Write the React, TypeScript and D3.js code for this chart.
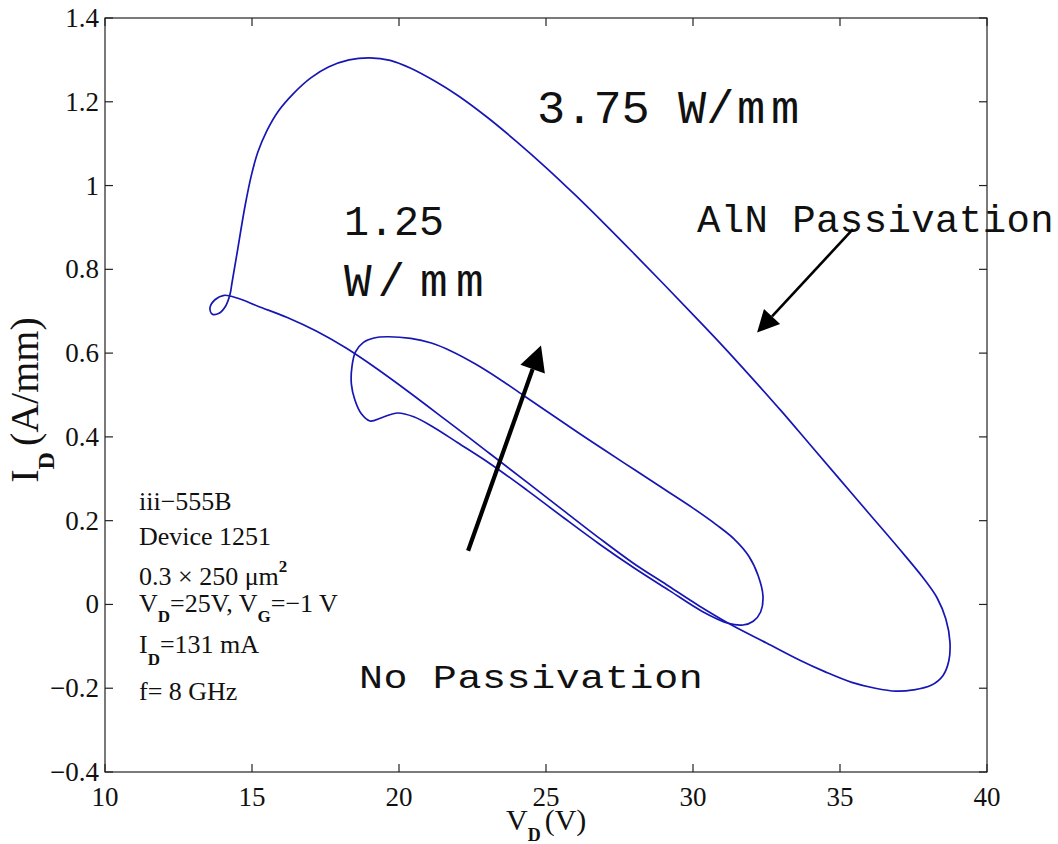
import React from "react";
import * as d3 from "d3";

// Axis ticks
const xTicks = [10, 15, 20, 25, 30, 35, 40];
const yTicks = [-0.4, -0.2, 0, 0.2, 0.4, 0.6, 0.8, 1, 1.2, 1.4];

// Dynamic load line, AlN-passivated device (3.75 W/mm): [V_D (V), I_D (A/mm)]
const alnLoop: [number, number][] = [
  [14.32, 0.768],
  [14.5, 0.842],
  [14.76, 0.95],
  [14.98, 1.025],
  [15.2, 1.08],
  [15.5, 1.13],
  [15.9, 1.178],
  [16.4, 1.219],
  [17.0, 1.257],
  [17.6, 1.283],
  [18.3, 1.3],
  [19.0, 1.305],
  [19.7, 1.299],
  [20.4, 1.28],
  [21.2, 1.25],
  [22.0, 1.215],
  [23.0, 1.163],
  [24.0, 1.105],
  [25.0, 1.043],
  [26.0, 0.977],
  [27.0, 0.908],
  [28.0, 0.837],
  [29.0, 0.765],
  [30.0, 0.692],
  [31.0, 0.618],
  [32.0, 0.541],
  [33.0, 0.462],
  [34.0, 0.38],
  [35.0, 0.298],
  [36.0, 0.216],
  [37.0, 0.134],
  [37.8, 0.066],
  [38.3, 0.016],
  [38.6, -0.035],
  [38.74, -0.09],
  [38.7, -0.135],
  [38.5, -0.17],
  [38.1, -0.193],
  [37.5, -0.204],
  [36.9, -0.207],
  [36.2, -0.2],
  [35.4, -0.186],
  [34.5, -0.161],
  [33.6, -0.132],
  [32.5, -0.092],
  [31.36, -0.051],
  [30.2, -0.003],
  [29.1, 0.047],
  [27.96, 0.099],
  [26.8, 0.159],
  [25.6, 0.224],
  [24.35, 0.292],
  [23.0, 0.365],
  [21.6, 0.44],
  [20.3, 0.509],
  [19.2, 0.565],
  [18.2, 0.612],
  [17.2, 0.652],
  [16.2, 0.685],
  [15.2, 0.712],
  [14.52, 0.731],
  [14.05, 0.738],
  [13.75, 0.728],
  [13.57, 0.708],
  [13.65, 0.693],
  [13.88, 0.695],
  [14.1, 0.712],
  [14.25, 0.74],
];

// Dynamic load line, unpassivated device (1.25 W/mm): [V_D (V), I_D (A/mm)]
const noPassLoop: [number, number][] = [
  [19.6, 0.639],
  [20.4, 0.635],
  [21.1, 0.624],
  [21.8, 0.604],
  [22.6, 0.574],
  [23.4, 0.539],
  [24.3, 0.496],
  [25.2, 0.453],
  [26.1, 0.41],
  [27.0, 0.368],
  [28.0, 0.322],
  [29.0, 0.276],
  [30.0, 0.23],
  [30.8, 0.19],
  [31.4, 0.156],
  [31.9, 0.115],
  [32.22, 0.068],
  [32.38, 0.02],
  [32.3, -0.018],
  [32.05, -0.04],
  [31.7, -0.049],
  [31.2, -0.045],
  [30.3, -0.016],
  [29.2, 0.033],
  [28.0, 0.087],
  [26.8, 0.145],
  [25.6, 0.207],
  [24.35, 0.273],
  [23.1, 0.336],
  [22.0, 0.386],
  [21.2, 0.422],
  [20.5, 0.448],
  [19.95, 0.457],
  [19.45, 0.447],
  [19.01, 0.438],
  [18.72, 0.455],
  [18.5, 0.488],
  [18.38, 0.526],
  [18.4, 0.568],
  [18.52, 0.603],
  [18.78, 0.625],
  [19.15, 0.636],
];

// Annotation arrows in data units: [start, tip]
const alnArrow: [[number, number], [number, number]] = [[35.44, 0.896], [32.18, 0.649]];
const noPassArrow: [[number, number], [number, number]] = [[22.35, 0.128], [24.83, 0.618]];

const W = 1058;
const H = 844;
const left = 105;
const right = 987;
const top = 18;
const bottom = 772;

const serif = "'Liberation Serif', 'Times New Roman', serif";
const mono = "'Liberation Mono', 'Courier New', monospace";
const lineColor = "#1616b4";

const fmt = (v: number) => {
  const s = d3.format("~g")(Math.abs(+v.toFixed(2)));
  return v < 0 ? "\u2212" + s : s;
};

function arrowHead(
  start: [number, number],
  tip: [number, number],
  len: number,
  half: number
) {
  const dx = tip[0] - start[0];
  const dy = tip[1] - start[1];
  const d = Math.hypot(dx, dy);
  const ux = dx / d;
  const uy = dy / d;
  const bx = tip[0] - ux * len;
  const by = tip[1] - uy * len;
  const pts = [
    [tip[0], tip[1]],
    [bx - uy * half, by + ux * half],
    [bx + uy * half, by - ux * half],
  ];
  return { base: [bx, by] as [number, number], points: pts.map((p) => p.join(",")).join(" ") };
}

export default function App() {
  const x = d3.scaleLinear().domain([10, 40]).range([left, right]);
  const y = d3.scaleLinear().domain([-0.4, 1.4]).range([bottom, top]);

  const line = d3
    .line<[number, number]>()
    .x((d) => x(d[0]))
    .y((d) => y(d[1]))
    .curve(d3.curveCatmullRomClosed.alpha(0.5));

  const arrows = [
    { a: alnArrow, w: 2.6, len: 22, half: 11 },
    { a: noPassArrow, w: 4.2, len: 25, half: 13 },
  ].map(({ a, w, len, half }) => {
    const s: [number, number] = [x(a[0][0]), y(a[0][1])];
    const t: [number, number] = [x(a[1][0]), y(a[1][1])];
    const head = arrowHead(s, t, len, half);
    return { s, head, w };
  });

  const tickLen = 8;
  const axisColor = "#222";

  return (
    <svg
      width={W}
      height={H}
      viewBox={`0 0 ${W} ${H}`}
      style={{ position: "absolute", left: 0, top: 0, background: "#fff" }}
    >
      <rect x={0} y={0} width={W} height={H} fill="#fff" />

      {/* load lines */}
      <path d={line(noPassLoop) ?? ""} fill="none" stroke={lineColor} strokeWidth={1.7} strokeLinejoin="round" />
      <path d={line(alnLoop) ?? ""} fill="none" stroke={lineColor} strokeWidth={1.7} strokeLinejoin="round" />

      {/* frame */}
      <rect
        x={left}
        y={top}
        width={right - left}
        height={bottom - top}
        fill="none"
        stroke={axisColor}
        strokeWidth={1.2}
      />
      {xTicks.map((t) => (
        <g key={"x" + t}>
          <line x1={x(t)} x2={x(t)} y1={bottom} y2={bottom - tickLen} stroke={axisColor} strokeWidth={1.2} />
          <line x1={x(t)} x2={x(t)} y1={top} y2={top + tickLen} stroke={axisColor} strokeWidth={1.2} />
          <text x={x(t)} y={806} textAnchor="middle" fontFamily={serif} fontSize={27} fill="#111">
            {fmt(t)}
          </text>
        </g>
      ))}
      {yTicks.map((t) => (
        <g key={"y" + t}>
          <line x1={left} x2={left + tickLen} y1={y(t)} y2={y(t)} stroke={axisColor} strokeWidth={1.2} />
          <line x1={right} x2={right - tickLen} y1={y(t)} y2={y(t)} stroke={axisColor} strokeWidth={1.2} />
          <text x={99} y={y(t) + 9} textAnchor="end" fontFamily={serif} fontSize={27} fill="#111">
            {fmt(t)}
          </text>
        </g>
      ))}

      {/* axis titles */}
      <text x={506} y={830} fontFamily={serif} fontSize={30} fill="#111">
        V
        <tspan fontSize={18} fontWeight="bold" dy={11}>
          D
        </tspan>
        <tspan dy={-11} dx={4}>
          (V)
        </tspan>
      </text>
      <text
        transform="translate(38,400) rotate(-90)"
        textAnchor="middle"
        fontFamily={serif}
        fontSize={40}
        fill="#111"
      >
        I
        <tspan fontSize={24} fontWeight="bold" dy={16}>
          D
        </tspan>
        <tspan dy={-16} dx={6}>
          (A/mm)
        </tspan>
      </text>

      {/* measurement conditions */}
      <g fontFamily={serif} fontSize={26} fill="#111">
        <text x={139} y={510}>iii{"\u2212"}555B</text>
        <text x={139} y={545}>Device 1251</text>
        <text x={139} y={585}>
          0.3 × 250 μm
          <tspan fontSize={17} fontWeight="bold" dy={-13}>
            2
          </tspan>
        </text>
        <text x={139} y={612}>
          V
          <tspan fontSize={17} fontWeight="bold" dy={10}>
            D
          </tspan>
          <tspan dy={-10}>=25V, V</tspan>
          <tspan fontSize={17} fontWeight="bold" dy={10}>
            G
          </tspan>
          <tspan dy={-10}>={"\u2212"}1 V</tspan>
        </text>
        <text x={139} y={653}>
          I
          <tspan fontSize={17} fontWeight="bold" dy={12}>
            D
          </tspan>
          <tspan dy={-12}>=131 mA</tspan>
        </text>
        <text x={139} y={700}>f= 8 GHz</text>
      </g>

      {/* power labels */}
      <g fontFamily={mono} fill="#111">
        <text x={537} y={123} fontSize={47}>
          3.75 W/<tspan x={737}>m</tspan>
          <tspan x={771}>m</tspan>
        </text>
        <text x={344} y={235} fontSize={42} textLength={100} lengthAdjust="spacingAndGlyphs">
          1.25
        </text>
        <text x={344} y={296} fontSize={46}>
          <tspan letterSpacing={6}>W/</tspan>
          <tspan x={420}>m</tspan>
          <tspan x={456}>m</tspan>
        </text>
        <text x={697} y={232} fontSize={39} letterSpacing={0.4}>
          AlN Passivation
        </text>
        <text transform="translate(359,688) scale(1,0.85)" fontSize={40} letterSpacing={0.6}>
          No Passivation
        </text>
      </g>

      {/* arrows */}
      {arrows.map((a, i) => (
        <g key={i}>
          <line x1={a.s[0]} y1={a.s[1]} x2={a.head.base[0]} y2={a.head.base[1]} stroke="#000" strokeWidth={a.w} />
          <polygon points={a.head.points} fill="#000" />
        </g>
      ))}
    </svg>
  );
}
